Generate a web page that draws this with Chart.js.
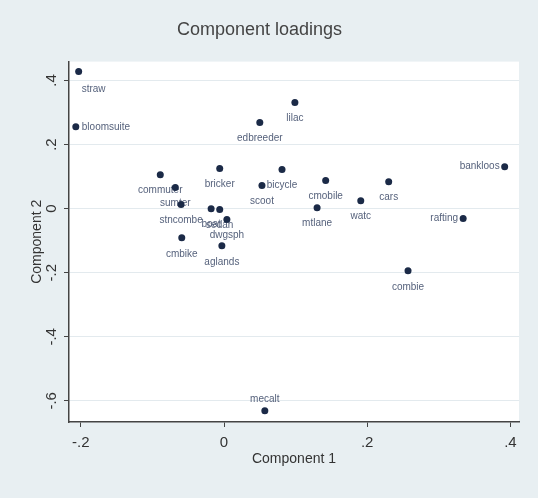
<!DOCTYPE html>
<html>
<head>
<meta charset="utf-8">
<script src="https://cdn.jsdelivr.net/npm/chart.js@4.4.1/dist/chart.umd.min.js"></script>
<style>
html, body { margin: 0; padding: 0; background: #e8eff2; }
#wrap { width: 538px; height: 498px; }
</style>
</head>
<body>
<div id="wrap"><canvas id="loadings" width="538" height="498"></canvas></div>
<script>
// variable names and their loadings on the two components
var names = ['straw', 'bloomsuite', 'lilac', 'edbreeder', 'bricker', 'bicycle', 'scoot',
  'cmobile', 'mtlane', 'cars', 'watc', 'bankloos', 'rafting', 'combie', 'mecalt',
  'commuter', 'sumter', 'stncombe', 'cmbike', 'boat', 'sedan', 'dwgsph', 'aglands'];
var comp1 = [-0.203, -0.207, 0.099, 0.050, -0.006, 0.081, 0.053,
  0.142, 0.130, 0.230, 0.191, 0.392, 0.334, 0.257, 0.057,
  -0.089, -0.068, -0.060, -0.059, -0.018, -0.006, 0.004, -0.003];
var comp2 = [0.428, 0.256, 0.331, 0.269, 0.125, 0.122, 0.072,
  0.088, 0.003, 0.084, 0.025, 0.131, -0.031, -0.194, -0.631,
  0.106, 0.066, 0.013, -0.091, 0.000, -0.003, -0.034, -0.116];

var xTicks = [-0.2, 0, 0.2, 0.4];
var yTicks = [-0.6, -0.4, -0.2, 0, 0.2, 0.4];

// where the marker label sits, default is below the marker
var labelSide = { straw: 'se', bloomsuite: 'e', bankloos: 'w', rafting: 'w', mecalt: 'n' };

function fmt(v) {
  v = Math.round(v * 10) / 10;
  if (v === 0) return '0';
  var s = String(Math.abs(v)).replace(/^0/, '');
  return (v < 0 ? '-' : '') + s;
}

var points = names.map(function (n, i) { return { x: comp1[i], y: comp2[i] }; });

Chart.defaults.font.family = '"Liberation Sans", Arial, sans-serif';

var backdrop = {
  id: 'backdrop',
  beforeDraw: function (chart) {
    var ctx = chart.ctx, a = chart.chartArea;
    ctx.save();
    ctx.fillStyle = '#e8eff2';
    ctx.fillRect(0, 0, chart.width, chart.height);
    ctx.fillStyle = '#ffffff';
    ctx.fillRect(a.left, a.top, a.right - a.left, a.bottom - a.top);
    ctx.restore();
  }
};

var markerLabels = {
  id: 'markerLabels',
  beforeDatasetsDraw: function (chart) {
    var ctx = chart.ctx;
    var meta = chart.getDatasetMeta(0);
    ctx.save();
    ctx.font = '10px "Liberation Sans", Arial, sans-serif';
    ctx.fillStyle = '#56627c';
    ctx.textBaseline = 'middle';
    meta.data.forEach(function (pt, i) {
      var side = labelSide[names[i]] || 's';
      var x = pt.x, y = pt.y;
      if (side === 's') { ctx.textAlign = 'center'; y += 16; }
      else if (side === 'n') { ctx.textAlign = 'center'; y -= 12; }
      else if (side === 'e') { ctx.textAlign = 'left'; x += 6; y += 1; }
      else if (side === 'w') { ctx.textAlign = 'right'; x -= 5; }
      else if (side === 'se') { ctx.textAlign = 'left'; x += 3; y += 18; }
      ctx.fillText(names[i], x, y);
    });
    ctx.restore();
  }
};

var chart = new Chart(document.getElementById('loadings'), {
  type: 'scatter',
  data: {
    datasets: [{
      data: points,
      pointRadius: 3.5,
      pointHoverRadius: 3.5,
      pointBackgroundColor: '#1b2a47',
      pointBorderColor: '#1b2a47',
      pointBorderWidth: 0
    }]
  },
  options: {
    responsive: false,
    animation: false,
    layout: { padding: { left: 0, right: 19, top: 0, bottom: 0 } },
    plugins: {
      legend: { display: false },
      tooltip: { enabled: false },
      title: {
        display: true,
        text: 'Component loadings',
        color: '#444',
        font: { size: 18, weight: 'normal' },
        padding: { top: 19, bottom: 21 }
      }
    },
    scales: {
      x: {
        type: 'linear',
        min: -0.2165,
        max: 0.412,
        afterBuildTicks: function (axis) {
          axis.ticks = xTicks.map(function (v) { return { value: v }; });
        },
        afterFit: function (axis) { axis.height = 76; },
        grid: { drawOnChartArea: false, drawTicks: true, tickLength: 5, tickColor: '#444', tickWidth: 1 },
        border: { display: true, color: '#444', width: 1.5 },
        ticks: { callback: fmt, color: '#333', font: { size: 15 }, padding: 7, minRotation: 0, maxRotation: 0 },
        title: { display: true, text: 'Component 1', color: '#333', font: { size: 14 }, padding: { top: 0, bottom: 30 } }
      },
      y: {
        type: 'linear',
        min: -0.666,
        max: 0.459,
        afterBuildTicks: function (axis) {
          axis.ticks = yTicks.map(function (v) { return { value: v }; });
        },
        afterFit: function (axis) { axis.width = 69; },
        grid: { color: '#e3eaee', lineWidth: 1, drawTicks: true, tickLength: 5, tickColor: '#444', tickWidth: 1 },
        border: { display: true, color: '#444', width: 1.5 },
        ticks: { callback: fmt, color: '#333', font: { size: 15 }, padding: 3, minRotation: 90, maxRotation: 90, crossAlign: 'center' },
        title: { display: true, text: 'Component 2', color: '#333', font: { size: 14 }, padding: { top: 29, bottom: 0 } }
      }
    }
  },
  plugins: [backdrop, markerLabels]
});
</script>
</body>
</html>
